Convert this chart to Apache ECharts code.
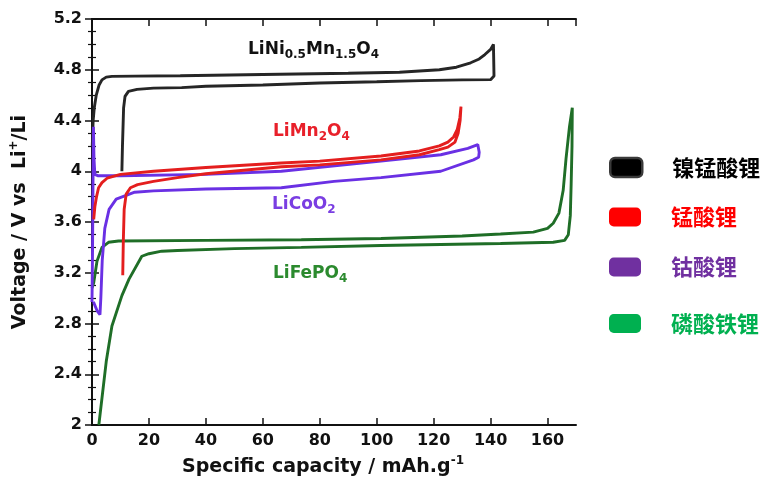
<!DOCTYPE html>
<html>
<head>
<meta charset="utf-8">
<script src="https://cdn.jsdelivr.net/npm/echarts@6/dist/echarts.min.js"></script>
<style>html,body{margin:0;padding:0;background:#fff}#c{width:769px;height:484px}</style>
</head>
<body>
<div id="c"></div>
<script>
// ---- data ----
const seriesNames = ['镍锰酸锂', '锰酸锂', '钴酸锂', '磷酸铁锂'];
const xTickValues = [0, 20, 40, 60, 80, 100, 120, 140, 160];
const yTickValues = [2, 2.4, 2.8, 3.2, 3.6, 4, 4.4, 4.8, 5.2];

const lnmoCharge = [[0.1,4.2],[0.4,4.4],[0.8,4.5],[1.5,4.6],[2.5,4.68],[3.5,4.72],[5,4.742],[7,4.748],[15,4.75],[31,4.753],[60,4.762],[90,4.772],[108,4.78],[122,4.8],[128,4.82],[133,4.855],[136,4.885],[138,4.92],[140,4.96],[141,5.0]];
const lnmoDischarge = [[141,5.0],[141.2,4.75],[140,4.722],[130,4.72],[115.5,4.714],[100,4.705],[80,4.695],[60,4.68],[40,4.67],[31.5,4.659],[21.6,4.655],[15.8,4.645],[12.8,4.63],[11.6,4.59],[11.1,4.5],[10.7,4.2],[10.5,4.0]];

const lmoCharge = [[0.6,3.62],[1,3.72],[1.6,3.8],[2.3,3.87],[3.5,3.91],[5.3,3.945],[10,3.975],[21.6,4.0],[40,4.03],[66.5,4.065],[80,4.08],[101.5,4.12],[115,4.16],[122,4.2],[125,4.23],[127,4.27],[128.3,4.33],[129.2,4.42],[129.6,4.51]];
const lmoDischarge = [[129.6,4.51],[129.3,4.4],[128.6,4.3],[127.5,4.23],[125,4.19],[122,4.17],[115,4.13],[101.5,4.09],[80,4.05],[66.5,4.035],[40,3.98],[30,3.95],[21.6,3.92],[16,3.895],[13.5,3.87],[12,3.82],[11.3,3.7],[11,3.45],[10.8,3.18]];

const lcoCharge = [[0,2.97],[0.2,3.4],[0.35,3.9],[0.5,4.35],[0.7,4.1],[1,3.975],[2,3.965],[10,3.965],[40,3.975],[66.5,4.0],[101.5,4.08],[122.5,4.13],[132,4.18],[135.5,4.21]];
const lcoDischarge = [[135.5,4.21],[136,4.15],[135.8,4.11],[134,4.09],[122.5,4.0],[101.5,3.95],[85,3.92],[66.5,3.87],[40,3.86],[21.6,3.845],[15,3.835],[8.5,3.78],[6,3.7],[4.5,3.55],[3.6,3.3],[3.1,3.0],[2.8,2.87],[1.8,2.9],[0.5,2.97]];

const lfpCharge = [[0,3.08],[0.6,3.12],[1.75,3.29],[3.5,3.4],[5.8,3.44],[9.3,3.45],[40,3.455],[73.5,3.46],[101.5,3.47],[130,3.49],[143.5,3.505],[155,3.52],[160,3.55],[162,3.59],[164,3.67],[165.5,3.85],[166.5,4.1],[167.7,4.35],[168.7,4.5]];
const lfpDischarge = [[168.7,4.5],[168.6,4.2],[168.3,3.9],[168,3.65],[167.3,3.5],[166,3.455],[162,3.44],[143.5,3.43],[101.5,3.415],[73.5,3.40],[50,3.39],[30,3.375],[24.5,3.37],[20,3.35],[17.5,3.33],[13,3.15],[10.5,3.02],[7,2.78],[5,2.5],[2.4,2.0]];

// ---- styles ----
const FONT = 'DejaVu Sans';
const CJK = 'Noto Sans CJK SC';
const lineColors = ['#262626', '#e41e1e', '#6a30e4', '#1f6e27'];
const legendColors = ['#000000', '#ff0000', '#7030a0', '#00b050'];
const legendCenters = [167.5, 217, 267, 323.5];

const chart = echarts.init(document.getElementById('c'), null, {renderer: 'canvas'});

const curves = [
  lnmoCharge.concat(lnmoDischarge),
  lmoCharge.concat(lmoDischarge),
  lcoCharge.concat(lcoDischarge),
  lfpCharge.concat(lfpDischarge)
];

const drawOrder = [3, 0, 2, 1];
const series = drawOrder.map(i => ({
  name: seriesNames[i],
  type: 'line',
  data: curves[i],
  showSymbol: false,
  symbol: 'none',
  smooth: false,
  color: lineColors[i],
  lineStyle: {color: lineColors[i], width: 2.9},
  emphasis: {disabled: true},
  silent: true,
  z: 2
}));

const legends = seriesNames.map((n, i) => ({
  data: [{
    name: n,
    itemStyle: i === 0
      ? {color: '#000', borderColor: '#3a3a3a', borderWidth: 2.5}
      : {color: legendColors[i], borderWidth: 0}
  }],
  left: 609,
  top: legendCenters[i] - 11,
  padding: 0,
  icon: 'roundRect',
  itemWidth: 32,
  itemHeight: 19,
  selectedMode: false,
  textStyle: {
    color: legendColors[i], fontSize: 22, fontWeight: 'bold', fontFamily: CJK,
    padding: [0, 0, 0, 25], lineHeight: 22
  }
}));

function chemLabel(parts, x, y, color) {
  const text = parts.map(p => p[1] ? '{s|' + p[0] + '}' : '{m|' + p[0] + '}').join('');
  return {
    type: 'text', left: x, top: y - 11, z: 10, silent: true,
    style: {
      text: text,
      fill: color,
      rich: {
        m: {fontSize: 17, fontWeight: 'bold', fontFamily: FONT, lineHeight: 22, fill: color},
        s: {fontSize: 12, fontWeight: 'bold', fontFamily: FONT, lineHeight: 12, verticalAlign: 'bottom', fill: color}
      }
    }
  };
}

const axisFont = {fontSize: 16, fontWeight: 'bold', fontFamily: FONT, color: '#111'};
const axLine = {show: true, lineStyle: {color: '#111', width: 2}};

const option = {
  animation: false,
  backgroundColor: '#fff',
  grid: {left: 90, right: 193, top: 19, bottom: 57, containLabel: false},
  legend: legends,
  xAxis: [{
    type: 'value', min: 0, max: 170, interval: 20, position: 'bottom',
    axisLine: axLine,
    axisTick: {show: true, inside: true, length: 7, lineStyle: {color: '#111', width: 1.5}},
    axisLabel: Object.assign({margin: 8, showMaxLabel: false,
      formatter: v => xTickValues.indexOf(v) >= 0 ? String(v) : ''}, axisFont),
    splitLine: {show: false},
    name: 'Specific capacity / mAh.g{sup|-1}',
    nameLocation: 'middle', nameGap: 30,
    nameTextStyle: {fontSize: 19, fontWeight: 'bold', fontFamily: FONT, color: '#111', lineHeight: 24,
      padding: [0, 22, 0, 0],
      rich: {sup: {fontSize: 12, fontWeight: 'bold', fontFamily: FONT, color: '#111', verticalAlign: 'top', lineHeight: 12}}}
  }, {
    type: 'value', min: 0, max: 170, interval: 20, position: 'top',
    axisLine: axLine,
    axisTick: {show: true, inside: true, length: 7, lineStyle: {color: '#111', width: 1.5}},
    axisLabel: {show: false}, splitLine: {show: false}
  }],
  yAxis: [{
    type: 'value', min: 2, max: 5.2, interval: 0.4, position: 'left',
    axisLine: axLine,
    axisTick: {show: true, inside: true, length: 7, lineStyle: {color: '#111', width: 1.5}},
    minorTick: {show: true, splitNumber: 4, length: 4, lineStyle: {color: '#111', width: 1.2}},
    axisLabel: Object.assign({margin: 10,
      formatter: v => { const r = Math.round(v * 10) / 10; return yTickValues.indexOf(r) >= 0 ? String(r) : ''; }}, axisFont),
    splitLine: {show: false},
    name: 'Voltage / V vs  Li{sup|+}/Li',
    nameLocation: 'middle', nameGap: 60,
    nameTextStyle: {fontSize: 19, fontWeight: 'bold', fontFamily: FONT, color: '#111', lineHeight: 24,
      rich: {sup: {fontSize: 12, fontWeight: 'bold', fontFamily: FONT, color: '#111', verticalAlign: 'top', lineHeight: 12}}}
  }, {
    type: 'value', min: 2, max: 5.2, interval: 0.4, position: 'right',
    axisLine: axLine,
    axisTick: {show: true, inside: true, length: 7, lineStyle: {color: '#111', width: 1.5}},
    minorTick: {show: true, splitNumber: 4, length: 4, lineStyle: {color: '#111', width: 1.2}},
    axisLabel: {show: false}, splitLine: {show: false}
  }],
  series: series,
  graphic: [
    chemLabel([['LiNi',0],['0.5',1],['Mn',0],['1.5',1],['O',0],['4',1]], 248, 52, '#111'),
    chemLabel([['LiMn',0],['2',1],['O',0],['4',1]], 273, 134, '#e8202a'),
    chemLabel([['LiCoO',0],['2',1]], 272, 207, '#7a3ee2'),
    chemLabel([['LiFePO',0],['4',1]], 273, 276, '#2b8a2e')
  ]
};
chart.setOption(option);
</script>
</body>
</html>
